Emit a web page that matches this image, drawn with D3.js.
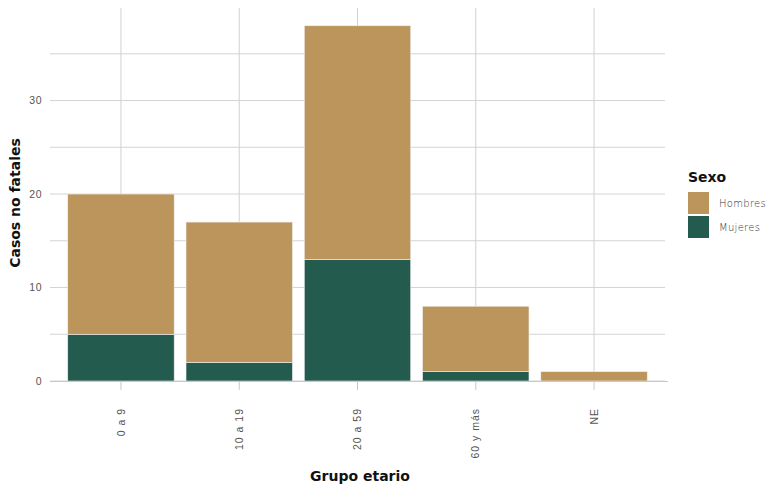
<!DOCTYPE html>
<html><head><meta charset="utf-8">
<script src="https://cdn.jsdelivr.net/npm/d3@7"></script>
<style>body{margin:0;background:#fff}svg{display:block;font-family:'DejaVu Sans',sans-serif}</style>
</head><body><svg id="c" width="770" height="484"></svg>
<script>
const categories = ["0 a 9","10 a 19","20 a 59","60 y más","NE"];
const mujeres = [5, 2, 13, 1, 0];
const hombres = [15, 15, 25, 7, 1];
const seriesNames = ["Hombres","Mujeres"];
const seriesColors = ["#BC955C","#235B4E"];
const yTicks = [0,10,20,30];
const yMinor = [5,15,25,35];

const svg = d3.select("#c");
const L = 50, R = 665, T = 8, B = 381;
const data = categories.map((c,i)=>({cat:c, Mujeres:mujeres[i], Hombres:hombres[i]}));
const maxTotal = d3.max(data, d=>d.Mujeres+d.Hombres);
const y = d3.scaleLinear().domain([0, maxTotal*1.05]).range([B, T]);
const x = d3.scaleBand().domain(categories).range([L, R]).paddingInner(0.1).paddingOuter(0.15);

const grid = svg.append("g");
[...yTicks, ...yMinor].forEach(v=>{
  grid.append("line").attr("x1",L).attr("x2",R).attr("y1",y(v)).attr("y2",y(v))
    .attr("stroke","#d4d4d4").attr("stroke-width",1);
});
categories.forEach(c=>{
  const cx = x(c)+x.bandwidth()/2;
  grid.append("line").attr("x1",cx).attr("x2",cx).attr("y1",T).attr("y2",B)
    .attr("stroke","#d0d0d0").attr("stroke-width",1);
});

const stack = d3.stack().keys(["Mujeres","Hombres"]);
const layers = stack(data);
const color = d3.scaleOrdinal().domain(seriesNames).range(seriesColors);
svg.append("g").selectAll("g").data(layers).join("g")
  .attr("fill", d=>color(d.key))
  .selectAll("rect").data(d=>d.filter(p=>p[1]>p[0])).join("rect")
  .attr("x", d=>x(d.data.cat)).attr("width", x.bandwidth())
  .attr("y", d=>y(d[1])).attr("height", d=>y(d[0])-y(d[1]))
  .attr("stroke","#f0f0f0").attr("stroke-width",0.6);

// x axis line and ticks
svg.append("line").attr("x1",L).attr("x2",R+3).attr("y1",B+0.5).attr("y2",B+0.5)
  .attr("stroke","#c8c8c8").attr("stroke-width",1.2);
const xAxis = svg.append("g").attr("transform",`translate(0,${B})`)
  .call(d3.axisBottom(x).tickSize(9).tickPadding(0));
xAxis.select(".domain").remove();
xAxis.selectAll(".tick line").attr("stroke","#c8c8c8");
xAxis.selectAll(".tick text")
  .attr("transform","translate(0,27) rotate(-90)")
  .attr("text-anchor","end").attr("dy","0.35em").attr("x",0).attr("y",0)
  .attr("fill","#555").style("font-size","10.5px").style("font-weight","200").style("letter-spacing","1px");

const yAxis = svg.append("g").attr("transform",`translate(${L},0)`)
  .call(d3.axisLeft(y).tickValues(yTicks).tickSize(0).tickPadding(8));
yAxis.select(".domain").remove();
yAxis.selectAll(".tick text").attr("fill","#555").style("font-size","10.5px").style("font-weight","200").style("letter-spacing","0.5px");

svg.append("text").attr("transform","translate(20,203) rotate(-90)")
  .attr("text-anchor","middle").style("font-size","14px").style("font-weight","bold").attr("fill","#111")
  .text("Casos no fatales");
svg.append("text").attr("x",360).attr("y",481).attr("text-anchor","middle")
  .style("font-size","14px").style("font-weight","bold").attr("fill","#111").text("Grupo etario");

const lg = svg.append("g").attr("transform","translate(688,0)");
lg.append("text").attr("x",0).attr("y",182).style("font-size","14px").style("font-weight","bold").attr("fill","#111").text("Sexo");
seriesNames.forEach((s,i)=>{
  lg.append("rect").attr("x",0).attr("y",192+i*24).attr("width",21).attr("height",22).attr("fill",seriesColors[i]);
  lg.append("text").attr("x",31).attr("y",203+i*24).attr("dy","0.35em").style("font-size","10px").style("font-weight","300")
    .attr("fill","#333").style("letter-spacing","0.3px").text(s);
});
</script></body></html>
